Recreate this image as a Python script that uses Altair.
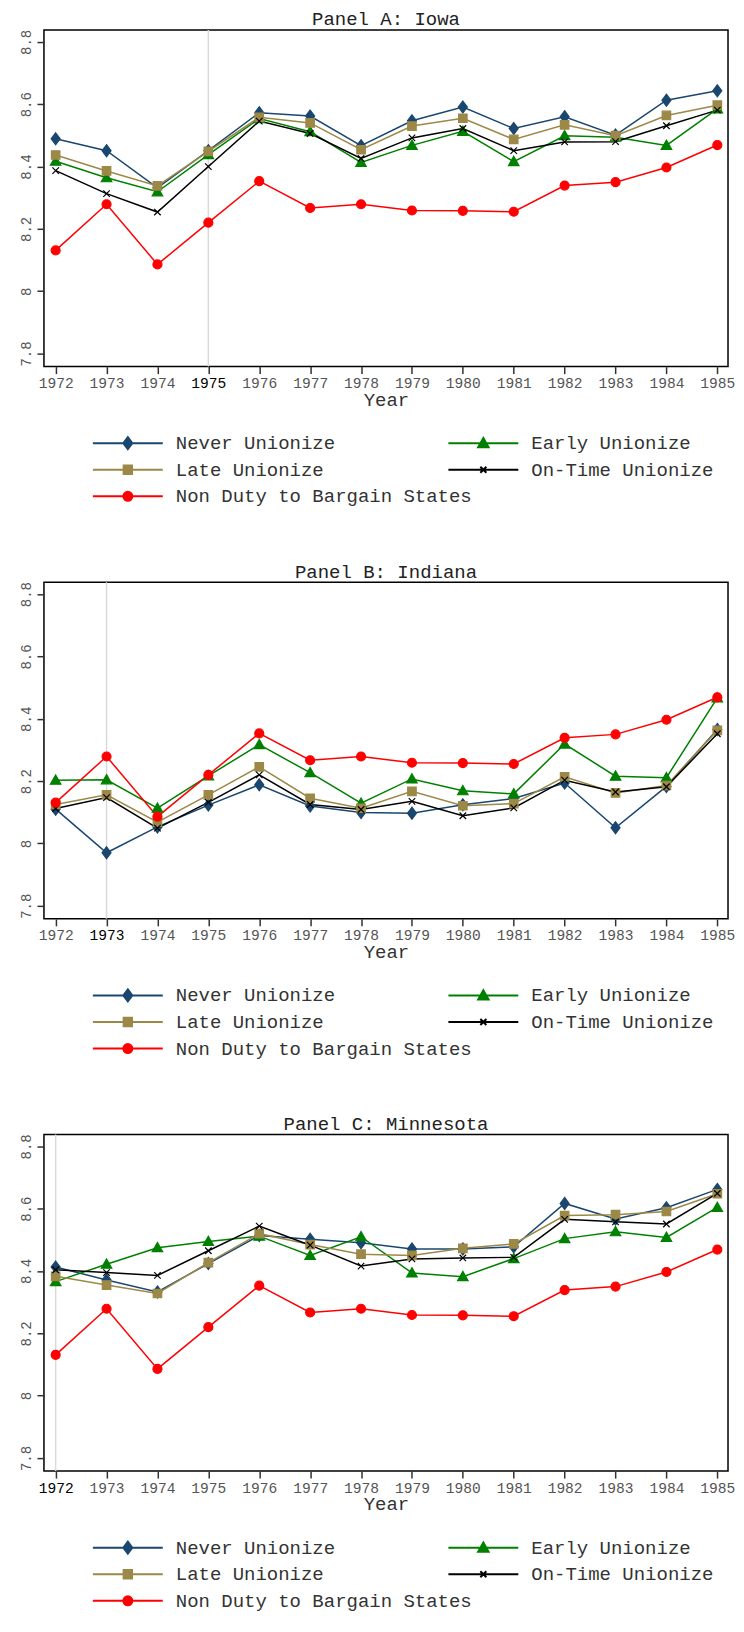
import altair as alt
import pandas as pd

years = list(range(1972, 1986))
series_names = ["Never Unionize", "Early Unionize", "Late Unionize",
                "On-Time Unionize", "Non Duty to Bargain States"]
series_colors = ["#1a476f", "#008000", "#9c8847", "#000000", "#ff0000"]

non_duty = [8.131, 8.279, 8.086, 8.220, 8.353, 8.267, 8.279, 8.259, 8.258, 8.255, 8.339, 8.350, 8.397, 8.469]

iowa_never = [8.489, 8.451, 8.332, 8.451, 8.573, 8.562, 8.467, 8.547, 8.591, 8.522, 8.560, 8.501, 8.613, 8.643]
iowa_early = [8.417, 8.364, 8.319, 8.438, 8.554, 8.512, 8.413, 8.468, 8.513, 8.416, 8.499, 8.494, 8.468, 8.585]
iowa_late = [8.437, 8.386, 8.338, 8.449, 8.558, 8.540, 8.454, 8.530, 8.555, 8.487, 8.534, 8.499, 8.564, 8.597]
iowa_ontime = [8.387, 8.313, 8.254, 8.400, 8.546, 8.506, 8.426, 8.492, 8.522, 8.451, 8.479, 8.480, 8.531, 8.581]

indiana_never = [8.110, 7.970, 8.053, 8.123, 8.188, 8.120, 8.099, 8.097, 8.124, 8.144, 8.194, 8.050, 8.183, 8.366]
indiana_early = [8.203, 8.204, 8.113, 8.217, 8.317, 8.227, 8.129, 8.207, 8.169, 8.159, 8.319, 8.216, 8.211, 8.467]
indiana_late = [8.125, 8.156, 8.068, 8.156, 8.246, 8.145, 8.113, 8.167, 8.121, 8.128, 8.214, 8.162, 8.186, 8.363]
indiana_ontime = [8.112, 8.147, 8.049, 8.132, 8.220, 8.125, 8.109, 8.135, 8.089, 8.114, 8.203, 8.165, 8.182, 8.352]

minn_never = [8.413, 8.371, 8.333, 8.424, 8.514, 8.502, 8.491, 8.471, 8.471, 8.478, 8.617, 8.567, 8.603, 8.662]
minn_early = [8.366, 8.422, 8.475, 8.495, 8.512, 8.450, 8.510, 8.394, 8.382, 8.440, 8.504, 8.526, 8.508, 8.604]
minn_late = [8.383, 8.355, 8.328, 8.427, 8.520, 8.485, 8.454, 8.450, 8.473, 8.487, 8.578, 8.581, 8.591, 8.648]
minn_ontime = [8.404, 8.395, 8.386, 8.465, 8.544, 8.483, 8.416, 8.439, 8.442, 8.444, 8.566, 8.558, 8.551, 8.649]

panel_titles = ["Panel A: Iowa", "Panel B: Indiana", "Panel C: Minnesota"]
panel_law_years = [1975, 1973, 1972]
panel_series = [
    [iowa_never, iowa_early, iowa_late, iowa_ontime, non_duty],
    [indiana_never, indiana_early, indiana_late, indiana_ontime, non_duty],
    [minn_never, minn_early, minn_late, minn_ontime, non_duty],
]

y_ticks = [7.8, 8.0, 8.2, 8.4, 8.6, 8.8]

# marker shapes (plot) and legend symbols (line through marker)
marker_paths = [
    "M0,-1.2L0.9,0L0,1.2L-0.9,0Z",
    "M0,-1.05L1.05,0.8L-1.05,0.8Z",
    "M-0.85,-0.85H0.85V0.85H-0.85Z",
    "M-0.65,-0.65L0.65,0.65M-0.65,0.65L0.65,-0.65",
    "M0.9,0A0.9,0.9,0,1,1,-0.9,0A0.9,0.9,0,1,1,0.9,0Z",
]
legend_paths = [
    "M-3.5,0H3.5M0,-0.6L0.45,0L0,0.6L-0.45,0Z",
    "M-3.5,0H3.5M0,-0.52L0.52,0.4L-0.52,0.4Z",
    "M-3.5,0H3.5M-0.42,-0.42H0.42V0.42H-0.42Z",
    "M-3.5,0H3.5M-0.3,-0.3L0.3,0.3M-0.3,0.3L0.3,-0.3",
    "M-3.5,0H3.5M0.45,0A0.45,0.45,0,1,1,-0.45,0A0.45,0.45,0,1,1,0.45,0Z",
]

FONT = "Liberation Mono"
W, H = 685, 337
X_DOMAIN = [1971.77, 1985.21]


def make_panel(title, law_year, values):
    rows = []
    for name, vals in zip(series_names, values):
        for yr, v in zip(years, vals):
            rows.append({"Year": yr, "value": v, "series": name})
    df = pd.DataFrame(rows)

    x_enc = alt.X(
        "Year:Q",
        scale=alt.Scale(domain=X_DOMAIN, nice=False, zero=False),
        axis=alt.Axis(
            values=years, format="d", title="Year", grid=False, domain=False,
            labelFont=FONT, labelFontSize=14.6, labelPadding=2,
            labelColor={"condition": {"test": f"datum.value == {law_year}", "value": "#000000"},
                        "value": "#555555"},
            tickSize=7, tickColor="#333333", tickWidth=1.5,
            titleFont=FONT, titleFontSize=19, titleFontWeight="normal",
            titleColor="#333333", titlePadding=0,
        ),
    )
    y_enc = alt.Y(
        "value:Q",
        scale=alt.Scale(domain=[7.758, 8.838], nice=False, zero=False),
        axis=alt.Axis(
            values=y_ticks, format=".1~f", title=None, grid=False, domain=False,
            labelFont=FONT, labelFontSize=14, labelAngle=270, labelAlign="center",
            labelBaseline="bottom", labelPadding=3, labelColor="#555555",
            tickSize=7, tickColor="#333333", tickWidth=1.5,
            minExtent=30, maxExtent=30,
        ),
    )

    rule = alt.Chart(pd.DataFrame({"Year": [law_year]})).mark_rule(
        color="#d9d9d9", strokeWidth=1.5
    ).encode(x=alt.X("Year:Q", scale=alt.Scale(domain=X_DOMAIN, nice=False, zero=False)))

    lines = alt.Chart(df).mark_line(strokeWidth=1.5).encode(
        x=x_enc, y=y_enc,
        color=alt.Color("series:N", scale=alt.Scale(domain=series_names, range=series_colors), legend=None),
    )

    points = alt.Chart(df).mark_point(filled=True, size=100, opacity=1, strokeWidth=1.2).encode(
        x=x_enc, y=y_enc,
        fill=alt.Fill("series:N", scale=alt.Scale(domain=series_names, range=series_colors), legend=None),
        stroke=alt.Stroke("series:N", scale=alt.Scale(domain=series_names, range=series_colors), legend=None),
        shape=alt.Shape("series:N", scale=alt.Scale(domain=series_names, range=marker_paths), legend=None),
    )

    legend_kw = dict(
        title=None, orient="none", legendX=73, legendY=402.7, columns=2, direction="horizontal",
        columnPadding=-36.6, rowPadding=5.6, labelFont=FONT, labelFontSize=19,
        labelColor="#333333", labelOffset=37, labelLimit=500, symbolSize=400,
        symbolStrokeWidth=2,
    )
    legend_layer = alt.Chart(df).mark_point(filled=True, size=400, opacity=1, strokeWidth=2).encode(
        x=x_enc, y=y_enc,
        fill=alt.Fill("series:N", scale=alt.Scale(domain=series_names, range=series_colors),
                      legend=alt.Legend(**legend_kw)),
        stroke=alt.Stroke("series:N", scale=alt.Scale(domain=series_names, range=series_colors),
                          legend=alt.Legend(**legend_kw)),
        shape=alt.Shape("series:N", scale=alt.Scale(domain=series_names, range=legend_paths),
                        legend=alt.Legend(**legend_kw)),
    ).transform_filter("false")

    return alt.layer(rule, lines, points, legend_layer).resolve_scale(
        color="independent", fill="independent", stroke="independent", shape="independent"
    ).properties(
        width=W, height=H,
        title=alt.TitleParams(text=title, font=FONT, fontSize=19, fontWeight="normal",
                              color="#222222", anchor="middle", offset=0),
    )


panels = [make_panel(t, ly, v) for t, ly, v in zip(panel_titles, panel_law_years, panel_series)]

chart = alt.vconcat(*panels, spacing=53).resolve_scale(
    x="independent", y="independent", color="independent", fill="independent",
    stroke="independent", shape="independent",
).properties(
    padding={"left": 5, "right": 0, "top": 0, "bottom": 0},
    background="white",
).configure_view(
    stroke="#000000", strokeWidth=1.5
)

chart.save("out.html", embed_options={"renderer": "svg", "actions": False})
